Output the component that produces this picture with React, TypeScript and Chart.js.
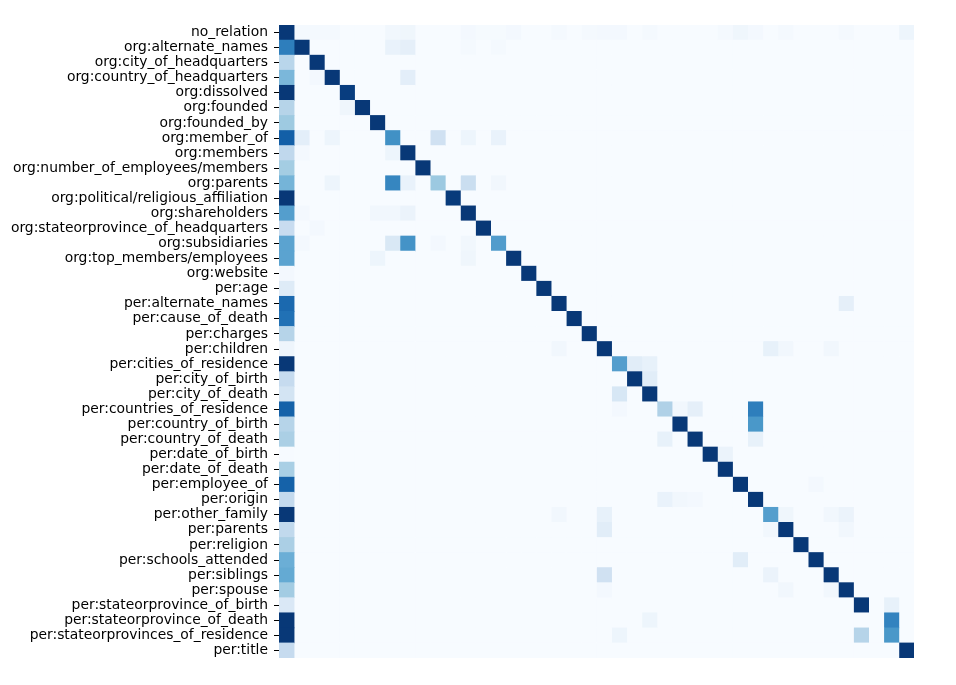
import React, { useEffect, useRef } from "react";
import { Chart, registerables } from "chart.js";

Chart.register(...registerables);

const relationLabels = [
  "no_relation",
  "org:alternate_names",
  "org:city_of_headquarters",
  "org:country_of_headquarters",
  "org:dissolved",
  "org:founded",
  "org:founded_by",
  "org:member_of",
  "org:members",
  "org:number_of_employees/members",
  "org:parents",
  "org:political/religious_affiliation",
  "org:shareholders",
  "org:stateorprovince_of_headquarters",
  "org:subsidiaries",
  "org:top_members/employees",
  "org:website",
  "per:age",
  "per:alternate_names",
  "per:cause_of_death",
  "per:charges",
  "per:children",
  "per:cities_of_residence",
  "per:city_of_birth",
  "per:city_of_death",
  "per:countries_of_residence",
  "per:country_of_birth",
  "per:country_of_death",
  "per:date_of_birth",
  "per:date_of_death",
  "per:employee_of",
  "per:origin",
  "per:other_family",
  "per:parents",
  "per:religion",
  "per:schools_attended",
  "per:siblings",
  "per:spouse",
  "per:stateorprovince_of_birth",
  "per:stateorprovince_of_death",
  "per:stateorprovinces_of_residence",
  "per:title",
];

// value on the diagonal (true label == predicted label)
const diagonalValues = [
  0.97, 0.97, 0.97, 0.97, 0.95, 0.97, 0.97, 0.63, 0.97, 0.97,
  0.38, 0.96, 0.97, 0.97, 0.58, 0.97, 0.97, 0.97, 0.97, 0.97,
  0.97, 0.97, 0.57, 0.97, 0.97, 0.32, 0.97, 0.97, 0.97, 0.97,
  0.97, 0.97, 0.57, 0.97, 0.97, 0.97, 0.97, 0.97, 0.97, 0.0,
  0.6, 0.97,
];

// first column (predicted as no_relation)
const noRelationColumn = [
  0.97, 0.7, 0.29, 0.46, 0.97, 0.3, 0.375, 0.82, 0.27, 0.355,
  0.475, 0.97, 0.57, 0.24, 0.55, 0.55, 0.02, 0.125, 0.78, 0.75,
  0.3, 0.045, 0.97, 0.25, 0.18, 0.81, 0.3, 0.335, 0.005, 0.34,
  0.81, 0.255, 0.97, 0.265, 0.335, 0.5, 0.52, 0.36, 0.145, 0.97,
  0.97, 0.25,
];

// other cells: [row, column, value]
const offDiagonalCells: [number, number, number][] = [
  [0, 1, 0.015], [0, 2, 0.015], [0, 3, 0.015], [0, 7, 0.03], [0, 8, 0.04],
  [0, 12, 0.02], [0, 13, 0.01], [0, 14, 0.01], [0, 15, 0.02], [0, 18, 0.015],
  [0, 20, 0.015], [0, 21, 0.02], [0, 22, 0.02], [0, 24, 0.015], [0, 29, 0.015],
  [0, 30, 0.04], [0, 31, 0.02], [0, 33, 0.015], [0, 37, 0.015], [0, 41, 0.05],
  [1, 7, 0.07], [1, 8, 0.09], [1, 12, 0.015], [1, 14, 0.015],
  [3, 2, 0.02], [3, 8, 0.1],
  [5, 4, 0.04],
  [7, 1, 0.1], [7, 3, 0.05], [7, 10, 0.2], [7, 12, 0.05], [7, 14, 0.07],
  [8, 1, 0.02], [8, 7, 0.05],
  [10, 3, 0.05], [10, 7, 0.67], [10, 8, 0.07], [10, 12, 0.23], [10, 14, 0.03],
  [12, 1, 0.02], [12, 6, 0.03], [12, 7, 0.03], [12, 8, 0.06],
  [13, 2, 0.02],
  [14, 1, 0.02], [14, 7, 0.15], [14, 8, 0.62], [14, 10, 0.02], [14, 12, 0.03],
  [15, 6, 0.05], [15, 12, 0.04],
  [18, 37, 0.09],
  [21, 18, 0.03], [21, 32, 0.08], [21, 33, 0.03], [21, 36, 0.03],
  [22, 23, 0.11], [22, 24, 0.08],
  [23, 24, 0.11],
  [24, 22, 0.16],
  [25, 22, 0.02], [25, 26, 0.03], [25, 27, 0.09], [25, 31, 0.7],
  [26, 31, 0.6],
  [27, 25, 0.08], [27, 31, 0.08],
  [28, 29, 0.06],
  [30, 35, 0.02],
  [31, 25, 0.07], [31, 26, 0.03], [31, 27, 0.02],
  [32, 18, 0.03], [32, 21, 0.08], [32, 33, 0.04], [32, 36, 0.03], [32, 37, 0.06],
  [33, 21, 0.11], [33, 32, 0.03], [33, 37, 0.03],
  [35, 30, 0.11],
  [36, 21, 0.2], [36, 32, 0.06],
  [37, 21, 0.02], [37, 33, 0.03], [37, 36, 0.03],
  [38, 40, 0.08],
  [39, 24, 0.05], [39, 40, 0.68],
  [40, 22, 0.05], [40, 38, 0.3],
];

const bluesStops: number[][] = [
  [247, 251, 255],
  [222, 235, 247],
  [198, 219, 239],
  [158, 202, 225],
  [107, 174, 214],
  [66, 146, 198],
  [33, 113, 181],
  [8, 81, 156],
  [8, 48, 107],
];

function blues(v: number): string {
  const t = Math.max(0, Math.min(1, v)) * (bluesStops.length - 1);
  const i = Math.min(Math.floor(t), bluesStops.length - 2);
  const f = t - i;
  const a = bluesStops[i];
  const b = bluesStops[i + 1];
  const c = a.map((x, k) => Math.round(x + (b[k] - x) * f));
  return `rgb(${c[0]},${c[1]},${c[2]})`;
}

export default function App() {
  const ref = useRef<HTMLCanvasElement>(null);

  useEffect(() => {
    if (!ref.current) return;
    const matrix = relationLabels.map((_, r) =>
      relationLabels.map((__, c) => (c === 0 ? noRelationColumn[r] : 0))
    );
    diagonalValues.forEach((v, i) => {
      matrix[i][i] = v;
    });
    offDiagonalCells.forEach(([r, c, v]) => {
      matrix[r][c] = v;
    });

    const datasets = relationLabels.map((name, c) => ({
      label: name,
      data: relationLabels.map(() => 1),
      backgroundColor: matrix.map((row) => blues(row[c])),
      borderWidth: 0,
      barPercentage: 1,
      categoryPercentage: 1,
    }));

    const chart = new Chart(ref.current, {
      type: "bar",
      data: { labels: relationLabels, datasets },
      options: {
        indexAxis: "y",
        animation: false,
        responsive: false,
        maintainAspectRatio: false,
        layout: { padding: { top: 25, right: 42, bottom: 27, left: 0 } },
        plugins: {
          legend: { display: false },
          tooltip: { enabled: false },
        },
        scales: {
          x: {
            type: "linear",
            min: 0,
            max: relationLabels.length,
            stacked: true,
            display: false,
          },
          y: {
            type: "category",
            stacked: true,
            offset: true,
            grid: {
              display: true,
              drawOnChartArea: false,
              drawTicks: true,
              tickLength: 5,
              tickColor: "#000",
              tickWidth: 1,
              offset: false,
            },
            border: { display: false },
            ticks: {
              autoSkip: false,
              color: "#000",
              padding: 6,
              font: { family: "DejaVu Sans", size: 13.89 },
            },
            afterFit: (s: any) => {
              s.width = 279;
              s.paddingTop = 0;
              s.paddingBottom = 0;
            },
          },
        },
      },
    });
    return () => chart.destroy();
  }, []);

  return (
    <div style={{ position: "absolute", left: 0, top: 0, width: 956, height: 685, background: "#fff" }}>
      <canvas ref={ref} width={956} height={685} style={{ display: "block" }} />
    </div>
  );
}
